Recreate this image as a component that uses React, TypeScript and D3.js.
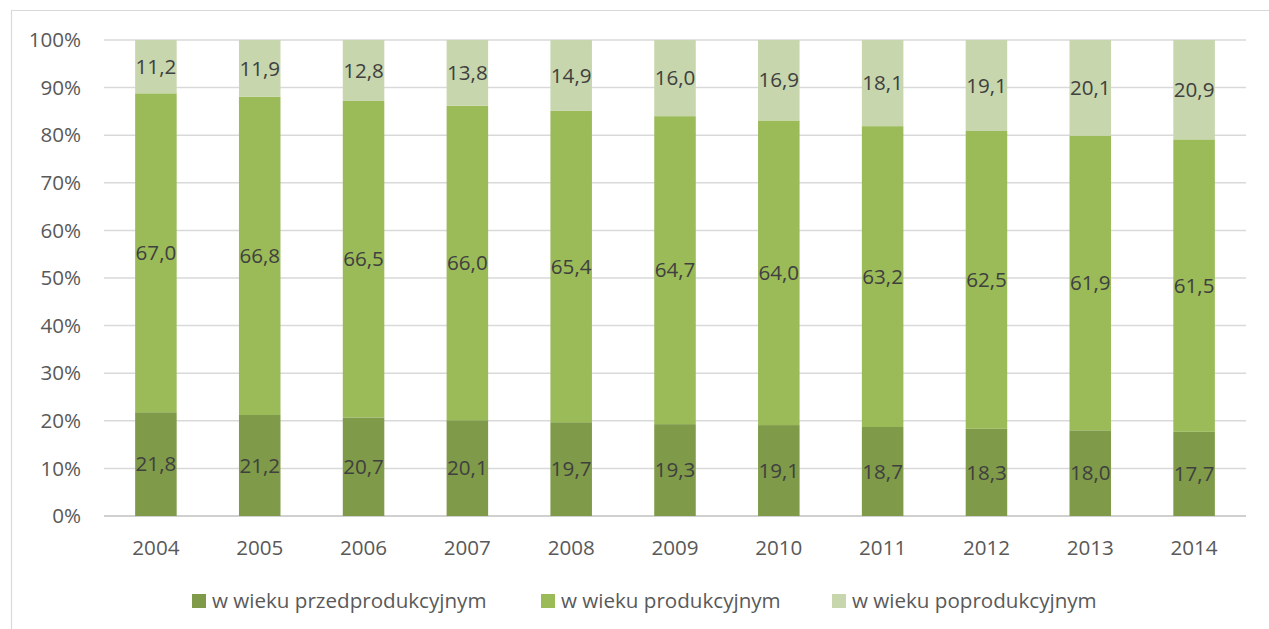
import React from "react";
import * as d3 from "d3";

const years = ["2004", "2005", "2006", "2007", "2008", "2009", "2010", "2011", "2012", "2013", "2014"];
const przed = [21.8, 21.2, 20.7, 20.1, 19.7, 19.3, 19.1, 18.7, 18.3, 18.0, 17.7];
const prod = [67.0, 66.8, 66.5, 66.0, 65.4, 64.7, 64.0, 63.2, 62.5, 61.9, 61.5];
const post = [11.2, 11.9, 12.8, 13.8, 14.9, 16.0, 16.9, 18.1, 19.1, 20.1, 20.9];
const seriesNames = ["w wieku przedprodukcyjnym", "w wieku produkcyjnym", "w wieku poprodukcyjnym"];
const seriesKeys = ["przed", "prod", "post"];
const colors = ["#7f9a48", "#9bbb59", "#c7d6ad"];
const yTicks = [0, 0.1, 0.2, 0.3, 0.4, 0.5, 0.6, 0.7, 0.8, 0.9, 1];

const W = 1269;
const H = 629;
const left = 104;
const right = 1246;
const top = 40;
const bottom = 516;
const FONT = "'Open Sans', sans-serif";
const FS = 20.6;

export default function App() {
  const rows = years.map((y, i) => ({ year: y, przed: przed[i], prod: prod[i], post: post[i] }));
  const stack = d3.stack<any>().keys(seriesKeys).offset(d3.stackOffsetExpand);
  const series = stack(rows);
  const x = d3.scaleBand().domain(years).range([left, right]).paddingInner(0.6).paddingOuter(0.3);
  const y = d3.scaleLinear().domain([0, 1]).range([bottom, top]);
  const fmt = (v: number) => v.toFixed(1).replace(".", ",");
  const legendX = [192, 541, 832];

  return (
    <svg width={W} height={H} style={{ position: "absolute", left: 0, top: 0, background: "#fff" }} fontFamily={FONT}>
      <rect x={0} y={0} width={W} height={H} fill="#fff" />
      <path d={`M11.5,${H + 5} L11.5,10.5 L${W + 5},10.5`} fill="none" stroke="#d9d9d9" strokeWidth={1.2} />
      {yTicks.map((t) => (
        <g key={t}>
          <line x1={left} x2={right} y1={y(t)} y2={y(t)} stroke={t === 0 ? "#d0d0d0" : "#d9d9d9"} strokeWidth={t === 0 ? 1.8 : 1.5} />
          <text x={81} y={y(t)} dy="0.35em" textAnchor="end" fontSize={FS} fill="#595959">{Math.round(t * 100)}%</text>
        </g>
      ))}
      {series.map((s, si) => (
        <g key={si}>
          {s.map((d, i) => (
            <rect key={i} x={x(years[i])} width={x.bandwidth()} y={y(d[1])} height={y(d[0]) - y(d[1])} fill={colors[si]} />
          ))}
        </g>
      ))}
      {series.map((s, si) => (
        <g key={"l" + si}>
          {s.map((d, i) => (
            <text key={i} x={(x(years[i]) as number) + x.bandwidth() / 2} y={(y(d[0]) + y(d[1])) / 2} dy="0.35em" textAnchor="middle" fontSize={FS} fill="#404040">
              {fmt((d.data as any)[seriesKeys[si]])}
            </text>
          ))}
        </g>
      ))}
      {years.map((yr) => (
        <text key={yr} x={(x(yr) as number) + x.bandwidth() / 2} y={548} dy="0.35em" textAnchor="middle" fontSize={FS} fill="#595959">{yr}</text>
      ))}
      {seriesNames.map((n, i) => (
        <g key={n}>
          <rect x={legendX[i]} y={594} width={14} height={14} fill={colors[i]} />
          <text x={legendX[i] + 20} y={601} dy="0.35em" fontSize={FS} fill="#595959">{n}</text>
        </g>
      ))}
    </svg>
  );
}
